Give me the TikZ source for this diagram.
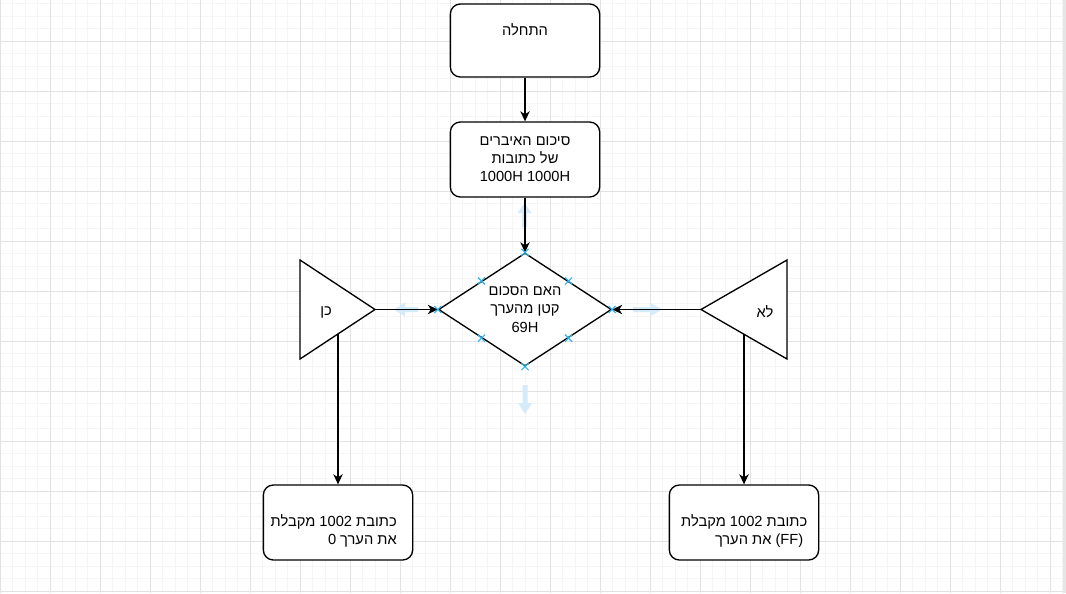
\documentclass[tikz,border=0pt]{standalone}
\usepackage{fontspec}
\usetikzlibrary{shapes.geometric,shapes.misc,arrows.meta,calc}
\newfontfamily\heb[Script=Hebrew]{Liberation Sans}
\TeXXeTstate=1
\definecolor{minorg}{RGB}{245,245,245}
\definecolor{majorg}{RGB}{226,226,226}
\definecolor{hoverblue}{RGB}{213,235,250}
\definecolor{markblue}{RGB}{41,182,242}
\definecolor{edgestrip}{RGB}{230,230,230}
\tikzset{
  minorline/.style={draw=minorg,line width=0.75pt},
  majorline/.style={draw=majorg,line width=0.75pt},
  box/.style={draw=black,fill=white,line width=1pt,rounded corners=7.5pt,
    minimum width=112pt,minimum height=56.25pt,inner sep=0pt,align=center,
    font=\heb\fontsize{11}{13.6}\selectfont},
  decision/.style={diamond,draw=black,fill=white,line width=1pt,aspect=1.53,
    minimum width=129.75pt,minimum height=84.75pt,inner sep=0pt,align=center,
    font=\heb\fontsize{11}{14}\selectfont},
  txt/.style={inner sep=0pt,font=\heb\fontsize{11}{14}\selectfont},
  conn/.style={draw=black,line width=1pt,-{Stealth[length=7.5pt,width=7pt,inset=2.2pt]}},
  tri/.style={draw=black,fill=white,line width=1pt,line join=miter},
  hover/.style={fill=hoverblue,draw=none},
  xmark/.style={cross out,draw=markblue,line width=0.8pt,minimum size=4.5pt,inner sep=0pt},
}
\begin{document}
\begin{tikzpicture}[x=0.75pt,y=-0.75pt]
\useasboundingbox (0,0) rectangle (1066,593);
\fill[white] (0,0) rectangle (1066,593);
% grid
\foreach \i in {0,...,85} \draw[minorline] (\i*12.5,0) -- (\i*12.5,593);
\foreach \j in {0,...,47} \draw[minorline] (0,3.5+\j*12.5) -- (1066,3.5+\j*12.5);
\foreach \i in {0,...,21} \draw[majorline] (\i*50,0) -- (\i*50,593);
\foreach \j in {0,...,11} \draw[majorline] (0,41+\j*50) -- (1066,41+\j*50);
\fill[edgestrip] (1063,0) rectangle (1066,593);

% boxes
\node[box,minimum height=54.75pt] (start) at (525,40.5) {};
\node[txt] (starttext) at (525,30) {\beginR התחלה\endR};
\node[box] (sum) at (525,159.5) {\beginR סיכום האיברים\endR\\ \beginR של כתובות\endR\\ 1000H 1000H};
\node[decision] (dia) at (525,309.5) {\beginR האם הסכום\endR\\ \beginR קטן מהערך\endR\\ 69H};
\node[box] (lbox) at (338,522.5) {};
\node[txt,align=right,anchor=east] (ltext) at (397,531) {\beginR כתובת \beginL1002\endL{} מקבלת\endR\\ \beginR את הערך 0\endR};
\node[box] (rbox) at (744,522.5) {};
\node[txt,align=right,anchor=east] (rtext) at (807.5,531) {\beginR כתובת \beginL1002\endL{} מקבלת\endR\\ \beginR את הערך\endR{} (FF)\kern3pt};

% triangles
\coordinate (ltA) at (300,260);
\coordinate (ltB) at (300,359);
\coordinate (ltTip) at (375,309.5);
\coordinate (ltDrop) at (338,333.9);
\draw[tri] (ltA) -- (ltTip) -- (ltB) -- cycle;
\node[txt] (yes) at (326,312) {\beginR כן\endR};
\coordinate (rtA) at (787,260);
\coordinate (rtB) at (787,359);
\coordinate (rtTip) at (701,309.5);
\coordinate (rtDrop) at (744,334.2);
\draw[tri] (rtA) -- (rtTip) -- (rtB) -- cycle;
\node[txt] (no) at (765,312) {\beginR לא\endR};

% hover arrows
\fill[hover] (522,227) -- (522,213) -- (517.5,213) -- (524.5,203) -- (531.5,213) -- (527,213) -- (527,227) -- cycle;
\fill[hover] (522.5,385) -- (522.5,403) -- (518,403) -- (525,414) -- (532,403) -- (527.5,403) -- (527.5,385) -- cycle;
\fill[hover] (418,307) -- (405,307) -- (405,302.5) -- (394,309.5) -- (405,316.5) -- (405,312) -- (418,312) -- cycle;
\fill[hover] (633,307) -- (650,307) -- (650,302.5) -- (662,309.5) -- (650,316.5) -- (650,312) -- (633,312) -- cycle;

% connectors
\draw[conn] (start.south) -- (sum.north);
\draw[conn] (sum.south) -- (dia.north);
\draw[conn] (ltTip) -- (dia.west);
\draw[conn] (rtTip) -- (dia.east);
\draw[conn] (ltDrop) -- (lbox.north);
\draw[conn] (rtDrop) -- (rbox.north);

% connection markers
\foreach \p [count=\k] in {dia.north,dia.south,dia.east,dia.west}
  \node[xmark] (m\k) at (\p) {};
\node[xmark] (m5) at ($(dia.north)!0.5!(dia.east)$) {};
\node[xmark] (m6) at ($(dia.east)!0.5!(dia.south)$) {};
\node[xmark] (m7) at ($(dia.south)!0.5!(dia.west)$) {};
\node[xmark] (m8) at ($(dia.west)!0.5!(dia.north)$) {};
\end{tikzpicture}
\end{document}
